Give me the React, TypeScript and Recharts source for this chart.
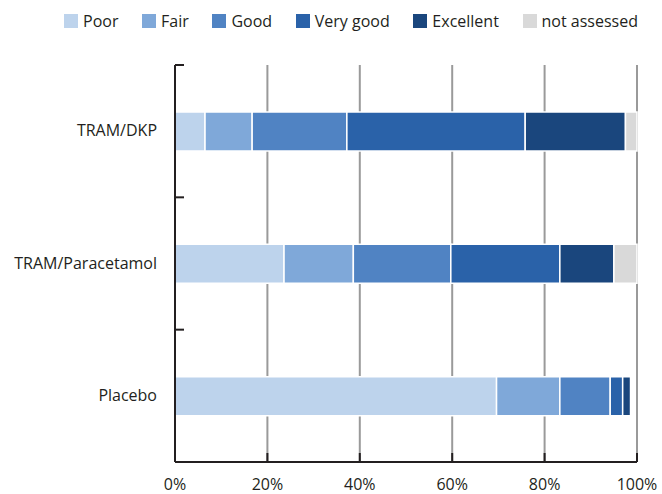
import { BarChart, Bar, XAxis, YAxis, CartesianGrid, Legend } from 'recharts';

const categories = ['TRAM/DKP', 'TRAM/Paracetamol', 'Placebo'];
const poor = [6.5, 23.6, 69.6];
const fair = [10.2, 15.0, 13.7];
const good = [20.5, 21.1, 10.9];
const veryGood = [38.6, 23.6, 2.7];
const excellent = [21.7, 11.7, 1.7];
const notAssessed = [2.5, 5.0, 0];
const xTicks = [0, 20, 40, 60, 80, 100];

const seriesNames = ['Poor', 'Fair', 'Good', 'Very good', 'Excellent', 'not assessed'];
const seriesValues = [poor, fair, good, veryGood, excellent, notAssessed];
const colors = ['#bdd3ec', '#7fa8d9', '#5083c3', '#2a62a9', '#1a467d', '#d9d9d9'];

const data = categories.map((name, i) => {
  const row: Record<string, any> = { name };
  seriesNames.forEach((s, j) => {
    row[s] = seriesValues[j][i];
  });
  return row;
});

const W = 662;
const H = 494;
const MARGIN = { top: 25, right: 25, left: 15, bottom: 0 };
const LEGEND_H = 40;
const Y_AXIS_W = 160;
const X_AXIS_H = 32;
const AXIS_X = MARGIN.left + Y_AXIS_W;
const PLOT_TOP = MARGIN.top + LEGEND_H;
const BAND = (H - PLOT_TOP - X_AXIS_H) / categories.length;
const TEXT = '#231f20';
const FONT = '"Open Sans", sans-serif';

const LegendBox = () => (
  <div
    style={{
      height: LEGEND_H,
      width: 638 - 64,
      marginLeft: 64,
      display: 'flex',
      justifyContent: 'space-between',
      alignItems: 'flex-start',
      paddingTop: 10,
      boxSizing: 'border-box',
      fontFamily: FONT,
      fontSize: 16,
      color: TEXT,
    }}
  >
    {seriesNames.map((s, i) => (
      <div key={s} style={{ display: 'flex', alignItems: 'center', height: 22 }}>
        <span style={{ width: 14, height: 14, background: colors[i], marginRight: 5 }} />
        <span style={{ lineHeight: '22px' }}>{s}</span>
      </div>
    ))}
  </div>
);

const YTick = (props: any) => {
  const { x, y, payload } = props;
  return (
    <g>
      <text x={x} y={y} dy={5} textAnchor="end" fill={TEXT} fontFamily={FONT} fontSize={16}>
        {payload.value}
      </text>
      <line x1={AXIS_X} x2={AXIS_X + 9} y1={y - BAND / 2} y2={y - BAND / 2} stroke={TEXT} strokeWidth={2} />
    </g>
  );
};

const XTick = (props: any) => {
  const { x, y, payload } = props;
  return (
    <g>
      <line x1={x} x2={x} y1={y - 9} y2={y} stroke={TEXT} strokeWidth={2} />
      <text x={x} y={y} dy={28} textAnchor="middle" fill={TEXT} fontFamily={FONT} fontSize={16}>
        {`${payload.value}%`}
      </text>
    </g>
  );
};

export default function App() {
  return (
    <div style={{ position: 'absolute', left: 0, top: 0, width: W, height: H, background: '#fff' }}>
      <BarChart width={W} height={H} data={data} layout="vertical" margin={MARGIN}>
        <Legend verticalAlign="top" align="left" content={() => <LegendBox />} wrapperStyle={{ top: 0, left: 0 }} />
        <CartesianGrid horizontal={false} stroke="#9a9a9a" strokeWidth={2} />
        <XAxis
          type="number"
          domain={[0, 100]}
          ticks={xTicks}
          height={X_AXIS_H}
          tickSize={0}
          tickMargin={0}
          tickLine={false}
          axisLine={{ stroke: TEXT, strokeWidth: 2 }}
          tick={<XTick />}
          interval={0}
        />
        <YAxis
          type="category"
          dataKey="name"
          width={Y_AXIS_W}
          tickSize={0}
          tickMargin={18}
          tickLine={false}
          axisLine={{ stroke: TEXT, strokeWidth: 2 }}
          tick={<YTick />}
          interval={0}
        />
        {seriesNames.map((s, i) => (
          <Bar
            key={s}
            dataKey={s}
            stackId="a"
            fill={colors[i]}
            stroke="#ffffff"
            strokeWidth={1.5}
            barSize={39}
            isAnimationActive={false}
          />
        ))}
      </BarChart>
    </div>
  );
}
